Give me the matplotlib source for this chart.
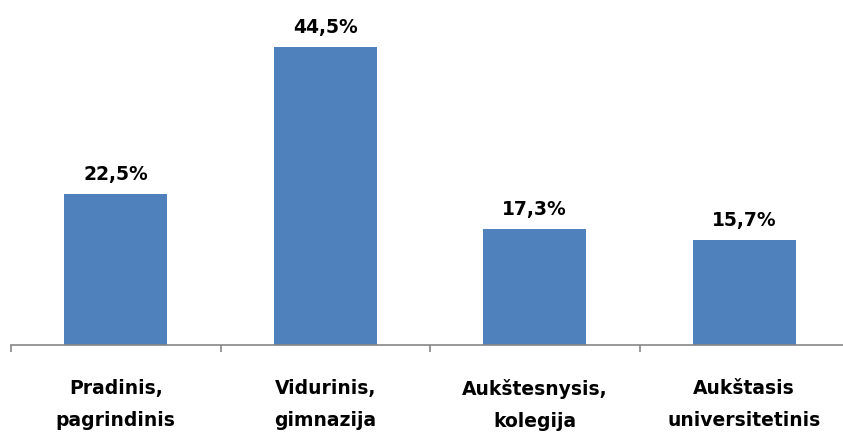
import matplotlib.pyplot as plt
import numpy as np

# Data
categories = ['Pradinis,\npagrindinis', 'Vidurinis,\ngimnazija',
              'Aukštesnysis,\nkolegija', 'Aukštasis\nuniversitetinis']
values = [22.5, 44.5, 17.3, 15.7]
value_labels = ['22,5%', '44,5%', '17,3%', '15,7%']

plt.rcParams['font.family'] = ['DejaVu Sans']

fig = plt.figure(figsize=(8.43, 4.35), dpi=100)
ax = fig.add_axes([11 / 843, 89 / 435, 838 / 843, 335 / 435])

x = np.arange(len(categories))
ax.bar(x, values, width=0.49, color='#4F81BD')

for xi, v, lab in zip(x, values, value_labels):
    ax.annotate(lab, (xi, v), xytext=(0, 15), textcoords='offset pixels',
                ha='center', va='baseline', fontsize=13.5, fontweight='bold')

ax.set_xlim(-0.5, len(categories) - 0.5)
ax.set_ylim(0, 50)

ax.set_xticks(x)
ax.set_xticklabels(categories, fontsize=13.5, fontweight='bold', linespacing=1.85)
ax.set_xticks(np.arange(-0.5, len(categories)), minor=True)
ax.tick_params(axis='x', which='major', length=0, pad=24)
ax.tick_params(axis='x', which='minor', length=5, width=1.2, color='#868686')
ax.set_yticks([])

for s in ['top', 'right', 'left']:
    ax.spines[s].set_visible(False)
ax.spines['bottom'].set_color('#868686')
ax.spines['bottom'].set_linewidth(1.2)

fig.savefig('out.png', dpi=100)
